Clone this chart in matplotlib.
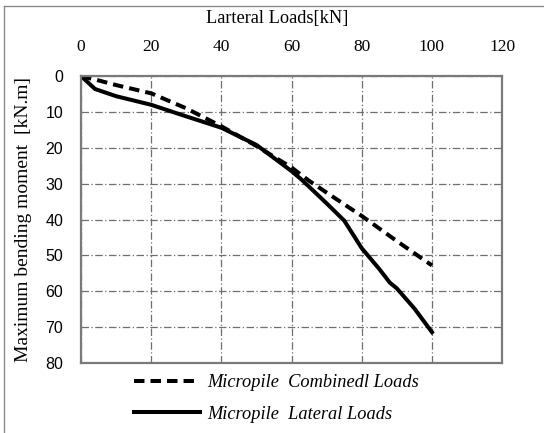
import matplotlib
matplotlib.use("Agg")
import matplotlib.pyplot as plt
from matplotlib.lines import Line2D

# lateral load [kN] vs max bending moment [kN.m]
combined_load = [0, 5, 10, 20, 30, 40, 50, 60, 65, 70, 80, 90, 100]
combined_moment = [0, 1.2, 2.5, 4.8, 9.0, 14.0, 19.5, 25.5, 29.2, 32.5, 39.0, 46.0, 52.8]

lateral_load = [0, 4, 10, 20, 28, 40, 50, 60, 63, 70, 75, 80, 85, 88, 90, 95, 100]
lateral_moment = [0, 3.6, 5.6, 8.0, 10.6, 14.4, 19.2, 26.5, 29.0, 35.5, 40.3, 48.0, 53.8, 57.6, 59.2, 64.8, 71.4]

x_ticks = [0, 20, 40, 60, 80, 100, 120]
y_ticks = [0, 10, 20, 30, 40, 50, 60, 70, 80]

serif = "Liberation Serif"
sans = "Liberation Sans"

fig = plt.figure(figsize=(5.44, 4.33), dpi=100)
ax = fig.add_axes([0.149, 0.1617, 0.774, 0.6625])

ax.plot(combined_load, combined_moment, color="black", lw=2.9,
        linestyle=(0, (2.6, 1.5)), label="Micropile  Combinedl Loads")
ax.plot(lateral_load, lateral_moment, color="black", lw=2.9,
        label="Micropile  Lateral Loads")

ax.set_xlim(0, 120)
ax.set_ylim(80, 0)
ax.set_xticks(x_ticks)
ax.set_yticks(y_ticks)
ax.xaxis.tick_top()
ax.xaxis.set_label_position("top")
ax.tick_params(axis="x", length=0, pad=15, labelsize=12.5)
ax.tick_params(axis="y", length=0, pad=13, labelsize=11.5)
for t in ax.get_xticklabels():
    t.set_fontfamily(serif)
for t in ax.get_yticklabels():
    t.set_fontfamily(sans)

ax.grid(True, color="#6f6f6f", lw=0.9, linestyle=(0, (6, 2, 1, 2)))
ax.set_axisbelow(True)
for s in ax.spines.values():
    s.set_color("#7a7a7a")
    s.set_linewidth(1.6)

ax.set_xlabel("Larteral Loads[kN]", fontfamily=serif, fontsize=13.2)
ax.xaxis.set_label_coords(0.465, 1.185)
ax.set_ylabel("Maximum bending moment  [kN.m]", fontfamily=serif, fontsize=14)
ax.yaxis.set_label_coords(-0.117, 0.5)

leg = ax.legend(loc="center", bbox_to_anchor=(0.508, 0.080),
                bbox_transform=fig.transFigure, frameon=False,
                prop={"family": serif, "style": "italic", "size": 13.2},
                handlelength=3.6, handletextpad=0.4, labelspacing=0.78)

# outer frame (top and left only)
fig.add_artist(Line2D([4 / 544, 1], [1 - 6 / 433, 1 - 6 / 433],
                      transform=fig.transFigure, color="#8a8a8a", lw=1))
fig.add_artist(Line2D([4 / 544, 4 / 544], [0, 1 - 6 / 433],
                      transform=fig.transFigure, color="#8a8a8a", lw=1))

fig.savefig("out.png", dpi=100)
